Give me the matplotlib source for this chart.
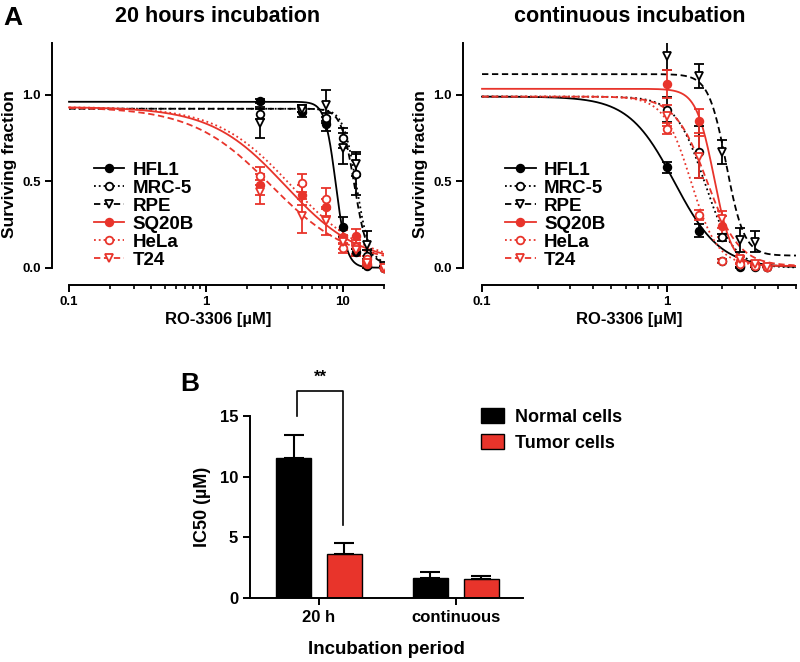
import numpy as np
import matplotlib
matplotlib.use("Agg")
import matplotlib.pyplot as plt
from matplotlib.lines import Line2D
from matplotlib.patches import Patch
from matplotlib.ticker import FixedLocator, NullFormatter

plt.rcParams["font.family"] = ["Liberation Sans", "DejaVu Sans"]
plt.rcParams["font.weight"] = "bold"

RED = "#e8342b"

names = ["HFL1", "MRC-5", "RPE", "SQ20B", "HeLa", "T24"]
colors = ["black", "black", "black", RED, RED, RED]
fills = ["black", "white", "white", RED, "white", "white"]
markers = ["o", "o", "v", "o", "o", "v"]
styles = ["-", ":", (0, (3.5, 2)), "-", ":", (0, (3.5, 2))]

# 20 hours incubation
dose_20h = [2.5, 5, 7.5, 10, 12.5, 15, 20]
surv_20h = [
    [0.965, 0.90, 0.83, 0.235, 0.09, 0.01, 0.0],
    [0.89, 0.92, 0.865, 0.75, 0.54, 0.07, 0.0],
    [0.84, 0.92, 0.94, 0.69, 0.60, 0.13, 0.01],
    [0.48, 0.42, 0.35, 0.18, 0.185, 0.02, 0.0],
    [0.53, 0.49, 0.40, 0.115, 0.12, 0.05, 0.0],
    [0.44, 0.30, 0.27, 0.15, 0.10, 0.03, 0.0],
]
err_20h = [
    [0.01, 0.03, 0.04, 0.06, 0.02, 0.01, 0.0],
    [0.03, 0.02, 0.03, 0.06, 0.12, 0.03, 0.0],
    [0.09, 0.02, 0.09, 0.09, 0.07, 0.08, 0.0],
    [0.06, 0.06, 0.05, 0.04, 0.04, 0.01, 0.0],
    [0.05, 0.05, 0.06, 0.03, 0.04, 0.02, 0.0],
    [0.07, 0.10, 0.08, 0.04, 0.03, 0.01, 0.0],
]
# fitted curve parameters: top, bottom, IC50, hill slope
fit_20h = [
    [0.96, 0.0, 8.9, 11],
    [0.92, 0.02, 12.6, 9],
    [0.92, 0.02, 12.2, 9],
    [0.93, 0.02, 3.8, 1.6],
    [0.93, 0.02, 4.2, 1.6],
    [0.93, 0.02, 3.0, 1.5],
]

# continuous incubation
dose_cont = [1, 1.5, 2, 2.5, 3, 3.5]
surv_cont = [
    [0.58, 0.215, 0.04, 0.005, 0.005, 0.005],
    [0.915, 0.667, 0.176, 0.01, 0.01, 0.005],
    [1.226, 1.107, 0.67, 0.16, 0.15],
    [1.063, 0.85, 0.24, 0.04, 0.02, 0.005],
    [0.805, 0.306, 0.04, 0.02, 0.01, 0.005],
    [0.88, 0.64, 0.28, 0.05, 0.02, 0.005],
]
err_cont = [
    [0.03, 0.04, 0.01, 0.0, 0.0, 0.0],
    [0.07, 0.15, 0.02, 0.01, 0.0, 0.0],
    [0.08, 0.07, 0.07, 0.07, 0.06],
    [0.08, 0.07, 0.06, 0.02, 0.01, 0.0],
    [0.03, 0.03, 0.01, 0.0, 0.0, 0.0],
    [0.06, 0.12, 0.05, 0.02, 0.0, 0.0],
]
fit_cont = [
    [0.99, 0.0, 1.10, 3.5],
    [0.99, 0.0, 1.6, 5.5],
    [1.12, 0.07, 2.1, 9],
    [1.035, 0.01, 1.8, 9],
    [0.99, 0.01, 1.35, 6],
    [0.99, 0.01, 1.65, 5],
]

# panel B
periods = ["20 h", "continuous"]
ic50_normal = [11.55, 1.68]
ic50_normal_err = [1.9, 0.47]
ic50_tumor = [3.66, 1.54]
ic50_tumor_err = [0.9, 0.25]


def hill(x, p):
    top, bottom, ic50, h = p
    return bottom + (top - bottom) / (1 + (x / ic50) ** h)


def survival_panel(ax, doses, surv, errs, fits, xmax, title):
    xs = np.logspace(-1, np.log10(xmax), 400)
    for i in range(len(names)):
        n = len(surv[i])
        ax.plot(xs, hill(xs, fits[i]), color=colors[i], linestyle=styles[i], lw=1.3, zorder=2)
        ax.errorbar(doses[:n], surv[i], yerr=errs[i], fmt="none", ecolor=colors[i],
                    elinewidth=1.3, capsize=3.5, capthick=1.3, zorder=3)
        ax.plot(doses[:n], surv[i], linestyle="none", marker=markers[i], ms=5.5,
                mfc=fills[i], mec=colors[i], mew=1.3, zorder=4)
    ax.set_xscale("log")
    ax.set_ylim(-0.1, 1.3)
    ax.spines["top"].set_visible(False)
    ax.spines["right"].set_visible(False)
    ax.spines["left"].set_bounds(0, 1.3)
    ax.spines["bottom"].set_bounds(0.1, xmax)
    for s in ["left", "bottom"]:
        ax.spines[s].set_linewidth(1.4)
    ax.set_yticks([0, 0.5, 1.0])
    ax.set_yticklabels(["0.0", "0.5", "1.0"])
    ax.set_xticks([0.1, 1, 10])
    ax.set_xticklabels(["0.1", "1", "10"])
    minor = []
    for decade in [0.1, 1, 10]:
        for k in range(2, 10):
            if decade * k <= xmax + 1e-9:
                minor.append(decade * k)
    ax.xaxis.set_minor_locator(FixedLocator(minor))
    ax.xaxis.set_minor_formatter(NullFormatter())
    ax.tick_params(axis="both", which="major", labelsize=9.5, width=1.4, length=5, pad=3)
    ax.tick_params(axis="x", which="minor", width=1.2, length=3)
    ax.set_ylabel("Surviving fraction", fontsize=12.5, fontweight="bold", labelpad=4)
    ax.set_xlabel("RO-3306 [µM]", fontsize=12, fontweight="bold", labelpad=3)
    ax.set_title(title, fontsize=15.5, fontweight="bold", pad=15)

    handles = []
    for i in range(len(names)):
        handles.append(Line2D([0], [0], color=colors[i], linestyle=styles[i], lw=1.3,
                              marker=markers[i], ms=5.5, mfc=fills[i], mec=colors[i], mew=1.3))
    leg = ax.legend(handles, names, loc="upper left", bbox_to_anchor=(0.125, 0.51),
                    frameon=False, fontsize=13.5, handlelength=1.65, handletextpad=0.45,
                    labelspacing=0.05, borderpad=0, borderaxespad=0)
    for t in leg.get_texts():
        t.set_fontweight("bold")


fig = plt.figure(figsize=(8, 6.62), dpi=100)

ax1 = fig.add_axes([52 / 800, 1 - 285 / 662, 332 / 800, 242 / 662])
survival_panel(ax1, dose_20h, surv_20h, err_20h, fit_20h, 20, "20 hours incubation")
ax1.set_xlim(0.0751, 20)

ax2 = fig.add_axes([463 / 800, 1 - 285 / 662, 333 / 800, 242 / 662])
survival_panel(ax2, dose_cont, surv_cont, err_cont, fit_cont, 5, "continuous incubation")
ax2.set_xlim(0.0789, 5)

# panel B
ax3 = fig.add_axes([250 / 800, 1 - 598 / 662, 273 / 800, 182 / 662])
pos = np.arange(len(periods))
bw = 0.255
off = 0.186
ax3.bar(pos - off, ic50_normal, bw, color="black", edgecolor="black", lw=1, label="Normal cells",
        yerr=[[0, 0], ic50_normal_err], error_kw=dict(elinewidth=1.5, capsize=7, capthick=1.5, ecolor="black"))
ax3.bar(pos + off, ic50_tumor, bw, color=RED, edgecolor="black", lw=1, label="Tumor cells",
        yerr=[[0, 0], ic50_tumor_err], error_kw=dict(elinewidth=1.5, capsize=7, capthick=1.5, ecolor="black"))
ax3.set_xlim(-0.504, 1.49)
ax3.set_ylim(0, 15)
ax3.spines["top"].set_visible(False)
ax3.spines["right"].set_visible(False)
for s in ["left", "bottom"]:
    ax3.spines[s].set_linewidth(1.4)
ax3.set_yticks([0, 5, 10, 15])
ax3.set_xticks(pos)
ax3.set_xticklabels(periods)
ax3.tick_params(axis="both", labelsize=12, width=1.4, length=5)
ax3.set_ylabel("IC50 (µM)", fontsize=13, fontweight="bold", labelpad=6)
ax3.set_xlabel("Incubation period", fontsize=13.5, fontweight="bold", labelpad=12)

# significance bracket
ax3.plot([-0.16, -0.16, 0.175, 0.175], [15.0, 17.1, 17.1, 6.0], color="black", lw=1.2, clip_on=False)
ax3.text(0.01, 17.6, "**", ha="center", va="bottom", fontsize=12, fontweight="bold")

leg3 = fig.legend(handles=[Patch(facecolor="black", edgecolor="black"),
                           Patch(facecolor=RED, edgecolor="black")],
                  labels=["Normal cells", "Tumor cells"], loc="upper left",
                  bbox_to_anchor=(481 / 800, 1 - 408 / 662), frameon=False, fontsize=13,
                  handlelength=1.3, handleheight=0.9, handletextpad=0.6, labelspacing=0.45,
                  borderpad=0, borderaxespad=0)
for t in leg3.get_texts():
    t.set_fontweight("bold")

fig.text(13 / 800, 1 - 18 / 662, "A", fontsize=19, fontweight="bold", ha="center", va="center")
fig.text(190 / 800, 1 - 384 / 662, "B", fontsize=19, fontweight="bold", ha="center", va="center")

fig.savefig("out.png", dpi=100)
